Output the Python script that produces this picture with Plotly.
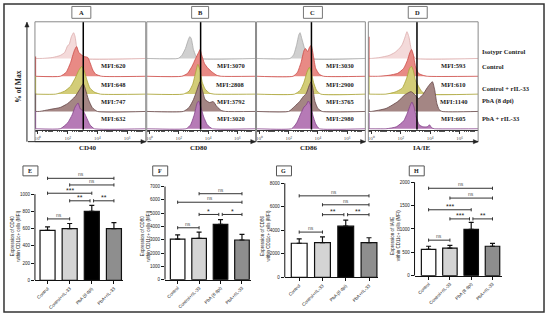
import math
import plotly.graph_objects as go

W, H = 550, 320
def px(x): return x / W
def py(y): return 1 - y / H

# ---------------- data: flow histograms (x = log10 intensity, h = % of max, px units) -------------
row_names = ["Isotypr Control", "Control", "Control + rIL-33", "PbA (8 dpi)", "PbA + rIL-33"]
markers = ["CD40", "CD80", "CD86", "IA/IE"]
top_letters = ["A", "B", "C", "D"]
decade_labels = ["10⁰", "10²", "10⁴", "10⁶"]

cd40_logx = [[0.3, 1.0, 1.5, 1.8, 2.0, 2.1, 2.25, 2.4, 2.5, 2.6, 2.75, 2.95],
             [1.5, 1.9, 2.2, 2.45, 2.6, 2.75, 2.9, 3.1, 3.35, 3.5, 3.7, 3.9, 4.3],
             [1.2, 1.8, 2.2, 2.5, 2.75, 2.95, 3.1, 3.3, 3.5, 3.8, 4.2],
             [0.1, 0.8, 1.5, 2.0, 2.5, 2.8, 3.05, 3.2, 3.4, 3.65, 4.0],
             [1.5, 2.0, 2.3, 2.5, 2.7, 2.85, 3.05, 3.25, 3.5, 3.8]]
cd40_h = [[0, 1, 3, 6, 13, 14, 22, 26, 22, 12, 4, 0],
          [0, 4, 14, 26, 30, 24, 22, 20, 19, 14, 6, 2, 0],
          [0, 3, 8, 16, 24, 28, 24, 14, 6, 2, 0],
          [0, 2, 4, 8, 15, 22, 28, 22, 12, 4, 0],
          [0, 6, 14, 22, 26, 20, 18, 12, 4, 0]]

cd80_logx = [[1.95, 2.2, 2.45, 2.65, 2.75, 2.85, 3.0, 3.15, 3.3],
             [2.2, 2.6, 2.9, 3.15, 3.35, 3.45, 3.55, 3.75, 4.0, 4.3, 4.6, 4.9],
             [2.3, 2.7, 2.95, 3.15, 3.3, 3.45, 3.6, 3.8, 4.1, 4.4],
             [2.3, 2.7, 3.0, 3.2, 3.45, 3.6, 3.8, 4.1, 4.35, 4.6, 4.9, 5.2],
             [2.5, 2.8, 3.05, 3.25, 3.35, 3.5, 3.7, 3.95, 4.3]]
cd80_h = [[0, 3, 10, 19, 22, 20, 9, 3, 0],
          [0, 3, 10, 18, 24, 27, 22, 13, 8, 4, 1, 0],
          [0, 3, 10, 22, 30, 24, 12, 5, 1, 0],
          [0, 4, 12, 20, 30, 22, 12, 9, 10, 5, 1, 0],
          [0, 4, 14, 26, 28, 22, 12, 4, 0]]

cd86_logx = [[2.1, 2.35, 2.55, 2.7, 2.78, 2.9, 3.05, 3.2, 3.4],
             [2.3, 2.6, 2.85, 3.05, 3.15, 3.3, 3.45, 3.55, 3.7, 3.85, 4.1, 4.4],
             [2.4, 2.8, 3.05, 3.25, 3.42, 3.55, 3.7, 3.9, 4.2],
             [2.0, 2.4, 2.75, 3.0, 3.2, 3.4, 3.53, 3.65, 3.8, 4.0, 4.3],
             [2.2, 2.55, 2.85, 3.05, 3.2, 3.35, 3.5, 3.65, 3.85, 4.1]]
cd86_h = [[0, 4, 14, 24, 26, 20, 12, 5, 0],
          [0, 4, 14, 26, 28, 25, 30, 31, 20, 8, 2, 0],
          [0, 4, 12, 22, 27, 22, 12, 4, 0],
          [0, 5, 10, 15, 18, 26, 30, 24, 10, 3, 0],
          [0, 6, 16, 22, 24, 28, 24, 14, 5, 0]]

iaie_logx = [[0.0, 0.6, 1.2, 1.6, 1.9, 2.1, 2.3, 2.42, 2.55, 2.7, 2.85, 3.0],
             [0.5, 1.2, 1.8, 2.2, 2.45, 2.62, 2.73, 2.85, 3.0, 3.2, 3.5, 3.8],
             [1.0, 1.6, 2.1, 2.4, 2.6, 2.73, 2.85, 3.0, 3.2, 3.4, 3.7],
             [0.0, 1.0, 1.8, 2.3, 2.7, 2.95, 3.2, 3.5, 3.8, 4.0, 4.15, 4.3, 4.45, 4.6, 4.8],
             [1.0, 1.7, 2.2, 2.45, 2.65, 2.76, 2.9, 3.05, 3.25, 3.5, 3.8, 3.95, 4.1, 4.3]]
iaie_h = [[0, 1, 3, 6, 10, 14, 22, 27, 22, 10, 3, 0],
          [0, 1, 3, 8, 16, 24, 27, 22, 10, 3, 1, 0],
          [0, 2, 6, 16, 26, 28, 24, 14, 8, 3, 0],
          [0, 3, 10, 17, 20, 17, 13, 17, 24, 28, 30, 22, 8, 2, 0],
          [0, 2, 8, 16, 24, 27, 22, 12, 4, 2, 2, 4, 1, 0]]

edge_spike = [[0, 20, 18, 18, 18], [0, 0, 0, 0, 0], [0, 0, 0, 0, 0], [0, 40, 18, 12, 16]]
ref_line_logx = [3.05, 3.49, 3.56, 3.10]

mfi_cd40 = [620, 648, 747, 632]
mfi_cd80 = [3070, 2808, 3792, 3020]
mfi_cd86 = [3030, 2900, 3765, 2980]
mfi_iaie = [593, 610, 1140, 605]

# ---------------- data: bar charts ----------------
groups = ["Control", "Control+rIL-33", "PbA (8 dpi)", "PbA+rIL-33"]
cd40_mean = [580, 600, 800, 600]
cd40_upper = [620, 660, 870, 670]
cd80_mean = [3050, 3100, 4150, 2980]
cd80_upper = [3360, 3580, 4520, 3400]
cd86_mean = [2900, 2950, 4350, 2950]
cd86_upper = [3280, 3450, 4860, 3370]
iaie_mean = [565, 590, 990, 630]
iaie_upper = [630, 650, 1140, 690]

cd40_sig = [(0, 3, 1184, "ns"), (1, 3, 1107, "ns"), (0, 2, 1011, "***"),
            (1, 1.92, 923, "**"), (2.08, 3, 923, "**"), (0, 1, 713, "ns")]
cd80_sig = [(1, 3, 6460, "ns"), (0, 3, 5820, "ns"), (1, 1.92, 4900, "*"),
            (2.08, 3, 4900, "*"), (0, 1, 3900, "ns")]
cd86_sig = [(0, 3, 6930, "ns"), (1, 3, 6170, "ns"), (1, 1.92, 5330, "**"),
            (2.08, 3, 5330, "**"), (0, 1, 3850, "ns")]
iaie_sig = [(0, 3, 1870, "ns"), (1, 3, 1660, "ns"), (0, 2, 1410, "***"),
            (1, 1.92, 1215, "***"), (2.08, 3, 1215, "**"), (0, 1, 760, "ns")]

# ---------------- styles ----------------
SERIF = "Liberation Serif"
SANS = "Liberation Sans"
iso_pink = ("#f4dada", "#dcacac")
iso_gray = ("#d0d0d0", "#a8a8a8")
row_styles = [None, ("#e88a85", "#cc4a46"), ("#d3cd78", "#a8a236"),
              ("#a48684", "#634444"), ("#b67ab6", "#84428a")]
row_offset = [71, 53, 35, 17.5, 0]

fig = go.Figure()
layout = dict(width=W, height=H, margin=dict(l=0, r=0, t=0, b=0),
              paper_bgcolor="white", plot_bgcolor="white", showlegend=False)
shapes, annots = [], []

def note(x, y, text, size, family=SERIF, color="#222", xanchor="center", angle=0, xref="paper", yref="paper", yshift=0):
    annots.append(dict(x=x, y=y, xref=xref, yref=yref, text=text, showarrow=False,
                       xanchor=xanchor, yanchor="middle", textangle=angle, yshift=yshift,
                       font=dict(family=family, size=size, color=color)))

def arrow(xh, yh, xt, yt, size=3.0):
    shapes.append(dict(type="line", xref="paper", yref="paper", x0=px(xt), y0=py(yt),
                       x1=px(xh), y1=py(yh), line=dict(color="#222", width=1)))
    dx, dy = xh - xt, yh - yt
    n = math.hypot(dx, dy)
    ux, uy = dx / n, dy / n
    bx_, by_ = xh - ux * size * 1.6, yh - uy * size * 1.6
    p1 = (bx_ - uy * size * 0.7, by_ + ux * size * 0.7)
    p2 = (bx_ + uy * size * 0.7, by_ - ux * size * 0.7)
    path = "M %f %f L %f %f L %f %f Z" % (px(xh), py(yh), px(p1[0]), py(p1[1]), px(p2[0]), py(p2[1]))
    shapes.append(dict(type="path", xref="paper", yref="paper", path=path,
                       fillcolor="#222", line=dict(color="#222", width=0.5)))

# ---------------- top histogram panels ----------------
top_boxes = [(34, 145), (146, 255), (256, 365), (368, 478)]
hist_x = [cd40_logx, cd80_logx, cd86_logx, iaie_logx]
hist_h = [cd40_h, cd80_h, cd86_h, iaie_h]
mfis = [mfi_cd40, mfi_cd80, mfi_cd86, mfi_iaie]
iso_style = [iso_pink, iso_gray, iso_gray, iso_pink]
mfi_xc = [113, 230, 340, 453]
mfi_y = [66, 85.5, 102.5, 119.5]
XR = [-0.2, 7.25]

minor_vals = []
for d in range(-1, 8):
    for k in range(2, 10):
        v = d + math.log10(k)
        if XR[0] < v < XR[1]:
            minor_vals.append(v)
for d in (1, 3, 5, 7):
    minor_vals.append(d)

for p in range(4):
    ax = "" if p == 0 else str(p + 1)
    xa, ya = "x" + ax, "y" + ax
    x0, x1 = top_boxes[p]
    for r in range(5):
        fill, line = iso_style[p] if r == 0 else row_styles[r]
        off = row_offset[r]
        xs = [XR[0]] + hist_x[p][r] + [XR[1]]
        ys = [off] + [off + h for h in hist_h[p][r]] + [off]
        fig.add_trace(go.Scatter(x=xs, y=ys, mode="lines", fill="toself",
                                 fillcolor=fill, line=dict(color=line, width=0.8, shape="spline", smoothing=0.5),
                                 xaxis=xa, yaxis=ya, hoverinfo="skip"))
        if edge_spike[p][r] > 0:
            fig.add_trace(go.Scatter(x=[-0.16, -0.16], y=[off, off + edge_spike[p][r]], mode="lines",
                                     line=dict(color=line, width=1.2), xaxis=xa, yaxis=ya, hoverinfo="skip"))
    layout["xaxis" + ax] = dict(domain=[px(x0), px(x1)], range=XR, anchor=ya,
                                tickvals=[0, 2, 4, 6], ticktext=decade_labels, tickangle=0,
                                ticks="outside", ticklen=3, tickwidth=0.8, tickcolor="#333",
                                tickfont=dict(family=SERIF, size=5, color="#555"),
                                minor=dict(tickvals=minor_vals, ticks="outside", ticklen=1.5, tickcolor="#555"),
                                showline=True, linecolor="#333", linewidth=1,
                                showgrid=False, zeroline=False, fixedrange=True)
    layout["yaxis" + ax] = dict(domain=[py(131), py(22)], range=[-1, 108], anchor=xa,
                                visible=False, fixedrange=True)
    shapes.append(dict(type="line", xref=xa, yref=ya, x0=ref_line_logx[p], x1=ref_line_logx[p],
                       y0=-1, y1=108, line=dict(color="black", width=1.5)))
    shapes.append(dict(type="rect", xref="paper", yref="paper", x0=px(x0), x1=px(x1),
                       y0=py(143), y1=py(22), line=dict(color="#8a8a8a", width=1)))
    for i, v in enumerate(mfis[p]):
        note(px(mfi_xc[p]), py(mfi_y[i]), "<b>MFI:%d</b>" % v, 6.5)
    tail = 27 if p == 0 else x0 + 1
    arrow(x1, 143, tail, 143)
    note(px((x0 + x1) / 2 - 2), py(149.5), "<b>%s</b>" % markers[p], 7)

top_letter_boxes = [(71, 90), (191, 208), (303, 322), (408, 427)]
for (a, b), L in zip(top_letter_boxes, top_letters):
    shapes.append(dict(type="rect", xref="paper", yref="paper", x0=px(a), x1=px(b),
                       y0=py(18.5), y1=py(6.5), line=dict(color="#777", width=1), fillcolor="white"))
    note(px((a + b) / 2), py(12.5), "<b>%s</b>" % L, 6.5)

arrow(26, 22.5, 26, 143)
note(px(17.5), py(87), "<b>% of Max</b>", 7.5, angle=-90)

legend_y = [52, 67, 89, 102, 120]
for name, yy in zip(row_names, legend_y):
    note(px(480), py(yy), "<b>%s</b>" % name, 6.5, xanchor="left")

# ---------------- bottom bar charts ----------------
bar_means = [cd40_mean, cd80_mean, cd86_mean, iaie_mean]
bar_upper = [cd40_upper, cd80_upper, cd86_upper, iaie_upper]
sigs = [cd40_sig, cd80_sig, cd86_sig, iaie_sig]
bottom_letters = ["E", "F", "G", "H"]
bar_colors = ["white", "#d4d4d4", "black", "#8e8e8e"]
bx = [(34, 122, -0.57, 3.4), (164.3, 250, -0.59, 3.4), (284.3, 378, -0.62, 3.4), (414.3, 502, -0.66, 3.45)]
by = [(283, 170, 1299, 200, 1000), (282.3, 184, 7320, 1000, 7000),
      (280, 183, 8168, 2000, 8000), (278.3, 180, 2083, 500, 2000)]
ylabels = ["Expression of CD40", "Expression of CD80", "Expression of CD86", "Expression of IA/IE"]
letter_boxes_b = [(22, 37), (152, 167), (276, 291), (409, 424)]

for p in range(4):
    n = p + 5
    xa, ya = "x%d" % n, "y%d" % n
    xl, xr, r0, r1 = bx[p]
    yb, yt, ymax, dt, ytop = by[p]
    err = [u - m for u, m in zip(bar_upper[p], bar_means[p])]
    fig.add_trace(go.Bar(x=list(range(4)), y=bar_means[p], width=0.68,
                         marker=dict(color=bar_colors, line=dict(color="#111", width=1.2)),
                         error_y=dict(type="data", array=err, arrayminus=[0] * 4, symmetric=False,
                                      color="#111", thickness=1.2, width=2.5),
                         xaxis=xa, yaxis=ya, hoverinfo="skip"))
    layout["xaxis%d" % n] = dict(domain=[px(xl), px(xr)], range=[r0, r1], anchor=ya,
                                 tickvals=list(range(4)), ticktext=groups, tickangle=-45,
                                 ticks="outside", ticklen=3, tickcolor="#111", tickwidth=1,
                                 tickfont=dict(family=SANS, size=4.5, color="#222"),
                                 showline=True, linecolor="#111", linewidth=1,
                                 showgrid=False, zeroline=False, fixedrange=True)
    layout["yaxis%d" % n] = dict(domain=[py(yb), py(yt)], range=[0, ymax], anchor=xa,
                                 tickvals=list(range(0, ytop + 1, dt)),
                                 ticks="outside", ticklen=3, tickcolor="#111", tickwidth=1,
                                 tickfont=dict(family=SANS, size=4.5, color="#222"),
                                 showline=False, showgrid=False, zeroline=False, fixedrange=True)
    shapes.append(dict(type="line", xref=xa + " domain", yref=ya, x0=0, x1=0, y0=0, y1=ytop,
                       line=dict(color="#111", width=1)))
    upp = ymax / (yb - yt)
    cap = 1.6 * upp
    for i0, i1, lev, lab in sigs[p]:
        shapes.append(dict(type="line", xref=xa, yref=ya, x0=i0, x1=i1, y0=lev, y1=lev,
                           line=dict(color="#333", width=1)))
        for xe in (i0, i1):
            shapes.append(dict(type="line", xref=xa, yref=ya, x0=xe, x1=xe, y0=lev - cap, y1=lev + cap,
                               line=dict(color="#333", width=1)))
        star = lab != "ns"
        note((i0 + i1) / 2, lev, lab, 7 if star else 5, family=SANS,
             color="#222" if star else "#555", xref=xa, yref=ya, yshift=3 if star else 4)
    note(px(xl - 19), py(238), ylabels[p] + "<br>within CD11c+ cells (MFI)", 4.5, family=SANS, angle=-90)
    a, b = letter_boxes_b[p]
    shapes.append(dict(type="rect", xref="paper", yref="paper", x0=px(a), x1=px(b),
                       y0=py(177.5), y1=py(167.5), line=dict(color="#555", width=1)))
    note(px((a + b) / 2), py(172.5), "<b>%s</b>" % bottom_letters[p], 6)

shapes.append(dict(type="rect", xref="paper", yref="paper", x0=px(3), x1=px(544),
                   y0=py(315), y1=py(4), line=dict(color="#333", width=1.5)))

layout["shapes"] = shapes
layout["annotations"] = annots
fig.update_layout(**layout)
fig.write_html("out.html", config={"displayModeBar": False},
               post_script="document.body.style.margin='0px';document.body.style.overflow='hidden';")
